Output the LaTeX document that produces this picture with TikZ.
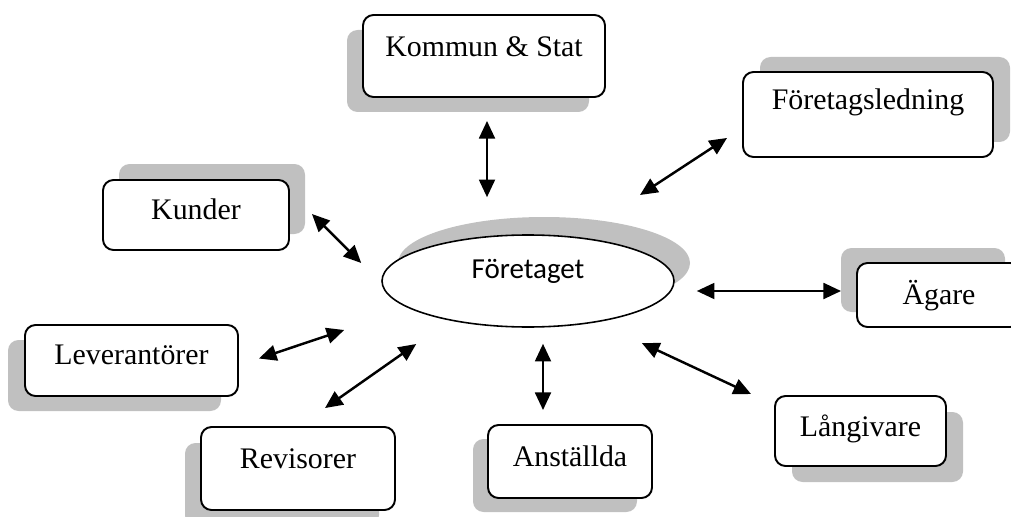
\documentclass[tikz,border=0pt]{standalone}
\usepackage{fontspec}
\setmainfont{Liberation Serif}
\newfontfamily\calibri{Carlito}
\usepackage{tikz}
\usetikzlibrary{arrows.meta, shapes.geometric, shadows}
\newdimen\pxu \pxu=0.02cm
\definecolor{shadegray}{RGB}{192,192,192}
\tikzset{party/.style={draw, line width=1.1pt, rounded corners=6pt, fill=white, inner sep=0pt, text height=19\pxu, font=\fontsize{17}{20}\selectfont}}
\tikzset{sh/.style 2 args={drop shadow={shadow xshift=#1\pxu, shadow yshift=#2\pxu, fill=shadegray, opacity=1}}}
\tikzset{link/.style={{Triangle[length=10pt,width=9pt]}-{Triangle[length=10pt,width=9pt]}, line width=1.4pt}}

\begin{document}
\begin{tikzpicture}[x=0.02cm, y=-0.02cm]
\useasboundingbox (0,0) rectangle (1011,517);
% the company in the middle
\node[ellipse, draw, line width=0.9pt, fill=white, sh={16}{18}, minimum width=292\pxu, minimum height=92\pxu, inner sep=0pt,
  font=\calibri\fontsize{16.5}{19}\selectfont, text height=18\pxu, text depth=24\pxu] (firma) at (528,281) {Företaget};
% stakeholders
\node[party, sh={-16}{-15}, minimum width=242\pxu, minimum height=82\pxu, text depth=18\pxu] (kommun) at (484,56) {Kommun \& Stat};
\node[party, sh={17}{15}, minimum width=250\pxu, minimum height=85\pxu, text depth=29\pxu] (ledning) at (868,114.5) {Företagsledning};
\node[party, sh={16}{16}, minimum width=186\pxu, minimum height=70\pxu, text depth=10\pxu] (kunder) at (196,215) {Kunder};
\node[party, sh={-16}{15}, minimum width=164\pxu, minimum height=64\pxu, text depth=0pt] (agare) at (939,295) {Ägare};
\node[party, sh={-17}{-15}, minimum width=213\pxu, minimum height=71\pxu, text depth=11\pxu] (lev) at (131.5,360.5) {Leverantörer};
\node[party, sh={-16}{-16}, minimum width=194\pxu, minimum height=83\pxu, text depth=20\pxu] (rev) at (298,468.5) {Revisorer};
\node[party, sh={-15}{-14}, minimum width=164\pxu, minimum height=73\pxu, text depth=9\pxu] (anst) at (570,461.5) {Anställda};
\node[party, sh={17}{-16}, minimum width=171\pxu, minimum height=70\pxu, text depth=8\pxu] (lang) at (860.5,431) {Långivare};
% two-way relations
\draw[link] ([shift={(3,23)}]kommun.south) -- ([shift={(-41,-37)}]firma.north);
\draw[link] ([shift={(112,-86)}]firma.center) -- ([shift={(-15,-20)}]ledning.south west);
\draw[link] ([shift={(22,-1)}]kunder.east) -- ([shift={(-20,-18)}]firma.west);
\draw[link] ([shift={(22,10)}]firma.east) -- ([shift={(-15,-4)}]agare.west);
\draw[link] ([shift={(20,-2)}]lev.east) -- ([shift={(-37,49)}]firma.west);
\draw[link] ([shift={(27,-18)}]rev.north) -- ([shift={(35,63)}]firma.west);
\draw[link] ([shift={(15,16)}]firma.south) -- ([shift={(-27,-14)}]anst.north);
\draw[link] ([shift={(-33,62)}]firma.east) -- ([shift={(-23,-1)}]lang.north west);
\end{tikzpicture}
\end{document}
